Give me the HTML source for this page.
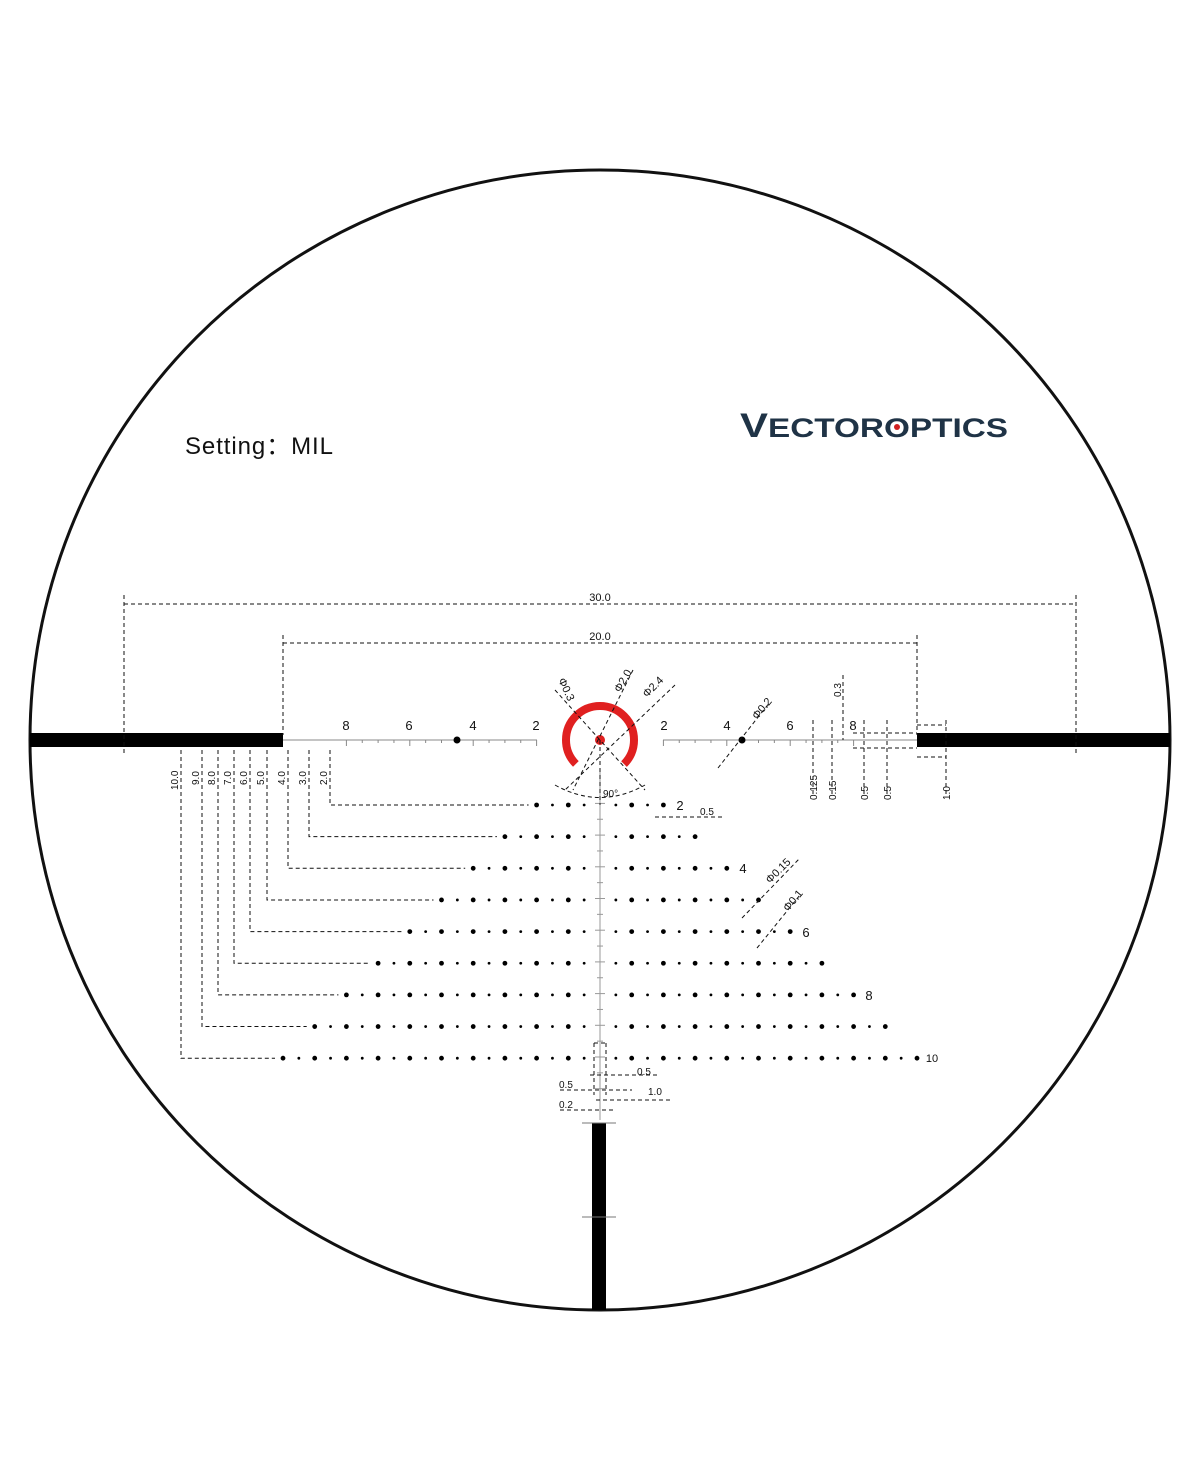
<!DOCTYPE html>
<html><head><meta charset="utf-8"><style>
html,body{margin:0;padding:0;background:#fff}
svg{display:block}
text{font-family:"Liberation Sans",sans-serif;fill:#111}
</style></head><body>
<svg id="s" width="1200" height="1482" viewBox="0 0 1200 1482" xmlns="http://www.w3.org/2000/svg">
<circle cx="600" cy="740" r="570" fill="none" stroke="#111" stroke-width="3"/>
<rect x="30" y="733" width="253" height="14" fill="#000"/>
<rect x="917" y="733" width="253" height="14" fill="#000"/>
<rect x="592" y="1123" width="14" height="187" fill="#000"/>
<line x1="582" y1="1123" x2="616" y2="1123" stroke="#777" stroke-width="1"/>
<line x1="582" y1="1217" x2="616" y2="1217" stroke="#777" stroke-width="1"/>
<text x="185" y="454" font-size="24" textLength="148">Setting：MIL</text>
<text x="740" y="437" font-size="34" font-weight="bold" style="fill:#1f3346" textLength="268" lengthAdjust="spacingAndGlyphs">V<tspan font-size="27">ECTOR</tspan><tspan font-size="27">O</tspan><tspan font-size="27">PTICS</tspan></text>
<circle cx="897" cy="427" r="3" fill="#d02020"/>
<g stroke="#111" stroke-width="1" stroke-dasharray="4,3" fill="none">
<line x1="124" y1="604" x2="1076" y2="604"/>
<line x1="124" y1="595" x2="124" y2="755"/>
<line x1="1076" y1="595" x2="1076" y2="755"/>
<line x1="283" y1="643" x2="917" y2="643"/>
<line x1="283" y1="635" x2="283" y2="735"/>
<line x1="917" y1="635" x2="917" y2="735"/>
</g>
<text x="600" y="601" font-size="11" text-anchor="middle">30.0</text>
<text x="600" y="640" font-size="11" text-anchor="middle">20.0</text>
<g id="g"></g>
<g font-size="13" text-anchor="middle">
<text x="346" y="730">8</text><text x="409" y="730">6</text><text x="473" y="730">4</text><text x="536" y="730">2</text>
<text x="664" y="730">2</text><text x="727" y="730">4</text><text x="790" y="730">6</text><text x="853" y="730">8</text>
<text x="680" y="810">2</text><text x="743" y="873">4</text><text x="806" y="937">6</text><text x="869" y="1000">8</text>
<text x="932" y="1062" font-size="11">10</text>
</g>
<circle cx="600" cy="740" r="34" fill="none" stroke="#e02020" stroke-width="8" stroke-dasharray="160.2 53.4" stroke-dashoffset="-80.1"/>
<circle cx="600" cy="740" r="5" fill="#e02020"/>
<g stroke="#111" stroke-width="1" stroke-dasharray="4,3" fill="none">
<line x1="555" y1="690" x2="645" y2="790"/>
<line x1="633" y1="670" x2="573" y2="790"/>
<line x1="675" y1="685" x2="565" y2="790"/>
<path d="M555 785 Q600 810 645 785"/>
<line x1="600" y1="740" x2="600" y2="805"/>
<line x1="718" y1="768" x2="770" y2="702"/>
<line x1="742" y1="918" x2="800" y2="858"/>
<line x1="757" y1="948" x2="800" y2="895"/>
</g>
<g font-size="11">
<text transform="translate(558,680) rotate(65)">Φ0.3</text>
<text transform="translate(620,693) rotate(-60)">Φ2.0</text>
<text transform="translate(647,698) rotate(-45)">Φ2.4</text>
<text transform="translate(757,720) rotate(-50)">Φ0.2</text>
<text transform="translate(770,884) rotate(-45)">Φ0.15</text>
<text transform="translate(788,912) rotate(-50)">Φ0.1</text>
<text x="603" y="797" font-size="10">90°</text>
</g>
<g font-size="10">
<text x="700" y="815">0.5</text>
<text x="637" y="1075">0.5</text><text x="648" y="1095">1.0</text>
<text x="559" y="1088">0.5</text><text x="559" y="1108">0.2</text>
</g>
<g font-size="10" id="rl"></g>
</svg>
<script>
const NS="http://www.w3.org/2000/svg",g=document.getElementById('g'),P=31.7,C=600,Y=740;
function el(n,a){const e=document.createElementNS(NS,n);for(const k in a)e.setAttribute(k,a[k]);g.appendChild(e);return e}
el('line',{x1:283,y1:Y,x2:537,y2:Y,stroke:'#888','stroke-width':1});
el('line',{x1:663,y1:Y,x2:917,y2:Y,stroke:'#888','stroke-width':1});
el('line',{x1:600,y1:770,x2:600,y2:1120,stroke:'#999','stroke-width':1});
for(let m=2;m<=10;m+=0.5){for(const s of[-1,1]){const x=C+s*m*P;if(m>8)continue;const h=Number.isInteger(m)&&m%2==0?6:3;el('line',{x1:x,y1:Y,x2:x,y2:Y+h,stroke:'#888','stroke-width':1});}}
for(let m=2;m<=11;m+=0.5){const y=Y+m*P;const h=Number.isInteger(m)?5:3;el('line',{x1:C-h,y1:y,x2:C+h,y2:y,stroke:'#999','stroke-width':1});}
el('circle',{cx:457,cy:Y,r:3.5,fill:'#000'});el('circle',{cx:742,cy:Y,r:3.5,fill:'#000'});
const lx={2:330,3:309,4:288,5:267,6:250,7:234,8:218,9:202,10:181};
for(let n=2;n<=10;n++){const yy=805+(n-2)*31.65;
for(let k=-2*n;k<=2*n;k++){if(k==0)continue;const x=C+k*P/2;el('circle',{cx:x,cy:yy,r:k%2==0?2.4:1.4,fill:'#000'});}
const x0=lx[n],xs=C-n*P-8;
el('path',{d:`M${x0} 750 V${yy} H${xs}`,fill:'none',stroke:'#111','stroke-width':1,'stroke-dasharray':'4,3'});
const t=document.createElementNS(NS,'text');t.setAttribute('transform',`translate(${x0-3},${n==10?790:785}) rotate(-90)`);t.setAttribute('font-size','10');t.textContent=n.toFixed(1);document.getElementById('rl').appendChild(t);}
const d=[[813,'0.125',800],[832,'0.15',800],[864,'0.5',800],[887,'0.5',800],[946,'1.0',800]];
for(const [x,l,yb] of d){el('line',{x1:x,y1:720,x2:x,y2:yb-5,stroke:'#111','stroke-width':1,'stroke-dasharray':'4,3'});
const t=document.createElementNS(NS,'text');t.setAttribute('transform',`translate(${x+4},${yb}) rotate(-90)`);t.setAttribute('font-size','10');t.textContent=l;document.getElementById('rl').appendChild(t);}
el('line',{x1:843,y1:675,x2:843,y2:740,stroke:'#111','stroke-width':1,'stroke-dasharray':'4,3'});
const t3=document.createElementNS(NS,'text');t3.setAttribute('transform','translate(841,697) rotate(-90)');t3.setAttribute('font-size','10');t3.textContent='0.3';document.getElementById('rl').appendChild(t3);
el('path',{d:'M853 733 H917 M853 748 H917 M917 725 H946 M917 757 H946',fill:'none',stroke:'#111','stroke-width':1,'stroke-dasharray':'4,3'});
el('path',{d:'M594 1043 V1095 M606 1043 V1095 M594 1043 H606 M590 1075 H660 M560 1090 H632 M596 1100 H670 M560 1110 H615',fill:'none',stroke:'#111','stroke-width':1,'stroke-dasharray':'4,3'});
el('path',{d:'M655 817 H725',fill:'none',stroke:'#111','stroke-width':1,'stroke-dasharray':'4,3'});
</script>
</body></html>
